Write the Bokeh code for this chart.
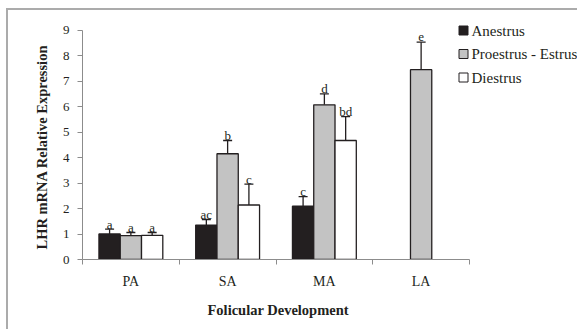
from bokeh.plotting import figure
from bokeh.models import (ColumnDataSource, FixedTicker, Range1d, Whisker, TeeHead, Title)
from bokeh.core.properties import value
from bokeh.embed import file_html
from bokeh.resources import INLINE

# ---- data ----
categories = ["PA", "SA", "MA", "LA"]
series_names = ["Anestrus", "Proestrus - Estrus", "Diestrus"]

anestrus_mean = [1.00, 1.35, 2.09]
anestrus_sem = [0.19, 0.22, 0.38]
anestrus_sig = ["a", "ac", "c"]
anestrus_cats = ["PA", "SA", "MA"]

proestrus_mean = [0.94, 4.15, 6.07, 7.45]
proestrus_sem = [0.12, 0.52, 0.43, 1.08]
proestrus_sig = ["a", "b", "d", "e"]
proestrus_cats = ["PA", "SA", "MA", "LA"]

diestrus_mean = [0.95, 2.14, 4.67]
diestrus_sem = [0.11, 0.82, 0.94]
diestrus_sig = ["a", "c", "bd"]
diestrus_cats = ["PA", "SA", "MA"]

y_ticks = [0, 1, 2, 3, 4, 5, 6, 7, 8, 9]
y_title = "LHR mRNA Relative Expression"
x_title = "Folicular Development"

# ---- layout constants (page pixels) ----
FONT = "Liberation Serif"
TXT = "#231f20"
ORIGIN_X, ORIGIN_Y = 8, 10       # canvas origin on page (margin + 2px border)
W, H = 579 - ORIGIN_X, 331 - ORIGIN_Y
frame_left_px = 82.0
px_per_unit = (259.3 - 30.0) / 9.0
px_per_cat = (469.0 - 82.0) / 4.0
left_b = int(frame_left_px - ORIGIN_X)
bottom_b = ORIGIN_Y + H - 259
frame_bottom_px = ORIGIN_Y + H - bottom_b
frame_w = W - left_b
frame_h = H - bottom_b
x_end = frame_w / px_per_cat
y_end = frame_h / px_per_unit


def dx(px):
    return (px - frame_left_px) / px_per_cat


def dy(py):
    return (frame_bottom_px - py) / px_per_unit


bar_w = 0.22
offsets = [-0.22, 0.0, 0.22]
fills = ["#231f20", "#c3c3c3", "#ffffff"]

p = figure(width=W, height=H, output_backend="svg", toolbar_location=None,
           x_range=Range1d(0, x_end), y_range=Range1d(0, y_end),
           min_border_left=left_b, min_border_right=0, min_border_top=0,
           min_border_bottom=bottom_b,
           styles={"margin-left": "6px", "margin-top": "8px",
                   "border-left": "2px solid #ababab", "border-top": "2px solid #ababab"})
p.title.visible = False
p.outline_line_color = None
p.xgrid.visible = False
p.ygrid.visible = False
p.background_fill_color = "white"
p.border_fill_color = "white"

series = [
    (anestrus_cats, anestrus_mean, anestrus_sem, anestrus_sig),
    (proestrus_cats, proestrus_mean, proestrus_sem, proestrus_sig),
    (diestrus_cats, diestrus_mean, diestrus_sem, diestrus_sig),
]

for i, (cats, mean, sem, sig) in enumerate(series):
    xs = [categories.index(c) + 0.5 + offsets[i] for c in cats]
    tops = [m + s for m, s in zip(mean, sem)]
    src = ColumnDataSource(dict(x=xs, y=mean, top=tops, sig=sig))
    p.vbar(x="x", top="y", bottom=0, width=bar_w, source=src,
           fill_color=fills[i], line_color=TXT, line_width=1.3)
    w = Whisker(source=src, base="x", lower="y", upper="top", dimension="height",
                lower_head=None, upper_head=TeeHead(size=9, line_width=1.3, line_color=TXT),
                line_width=1.3, line_color=TXT)
    p.add_layout(w)
    p.text(x="x", y="top", text="sig", source=src, text_font=value(FONT),
           text_font_size="13px", text_align="center", text_baseline="alphabetic",
           y_offset=-5, text_color=TXT)

# ---- legend (drawn in the frame, right of the bars) ----
leg_rows_px = [30.0, 53.5, 77.0]
leg_src = ColumnDataSource(dict(
    sx=[dx(463)] * 3, tx=[dx(471)] * 3, y=[dy(v) for v in leg_rows_px],
    name=series_names, fill=fills))
p.scatter(x="sx", y="y", source=leg_src, marker="square", size=9,
          fill_color="fill", line_color=TXT, line_width=1)
p.text(x="tx", y="y", text="name", source=leg_src, text_font=value(FONT),
       text_font_size="15px", text_align="left", text_baseline="middle", text_color=TXT)

# ---- axes ----
axis_color = "#8c8c8c"
ya = p.yaxis[0]
ya.ticker = FixedTicker(ticks=y_ticks)
ya.bounds = (-0.12, 9)
ya.axis_line_color = axis_color
ya.major_tick_line_color = axis_color
ya.major_tick_out = 5
ya.major_tick_in = 0
ya.minor_tick_line_color = None
ya.major_label_text_font = FONT
ya.major_label_text_font_size = "13px"
ya.major_label_text_color = TXT
ya.major_label_standoff = 8

xa = p.xaxis[0]
centers = [i + 0.5 for i in range(len(categories))]
xa.ticker = FixedTicker(ticks=centers, minor_ticks=list(range(len(categories) + 1)))
xa.major_label_overrides = {c: lab for c, lab in zip(centers, categories)}
xa.bounds = (0, len(categories))
xa.axis_line_color = axis_color
xa.major_tick_line_color = None
xa.major_tick_out = 0
xa.major_tick_in = 0
xa.minor_tick_line_color = axis_color
xa.minor_tick_out = 5
xa.minor_tick_in = 0
xa.major_label_text_font = FONT
xa.major_label_text_font_size = "14px"
xa.major_label_text_color = TXT
xa.major_label_standoff = 9

# ---- axis titles as side-panel titles ----
p.add_layout(Title(text=y_title, align="left", offset=10, standoff=20, text_font=FONT,
                   text_font_size="14.5px", text_font_style="bold", text_color=TXT), "left")
p.add_layout(Title(text=x_title, align="left", offset=125, standoff=16, text_font=FONT,
                   text_font_size="14.5px", text_font_style="bold", text_color=TXT), "below")

open("out.html", "w").write(file_html(p, INLINE))
